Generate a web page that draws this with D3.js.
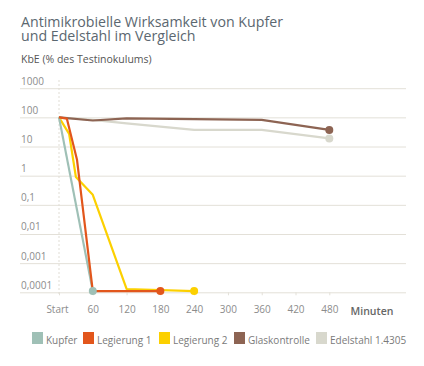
<!DOCTYPE html>
<html><head><meta charset="utf-8">
<script src="https://cdn.jsdelivr.net/npm/d3@7"></script>
<style>body{margin:0;background:#fff}svg{display:block}text{font-family:"Open Sans",sans-serif}</style>
</head><body>
<svg id="c" width="424" height="366"></svg>
<script>
const title1 = "Antimikrobielle Wirksamkeit von Kupfer";
const title2 = "und Edelstahl im Vergleich";
const yTitle = "KbE (% des Testinokulums)";
const yTicks = [1000, 100, 10, 1, 0.1, 0.01, 0.001, 0.0001];
const yTickLabels = ["1000", "100", "10", "1", "0,1", "0,01", "0,001", "0,0001"];
const xTicks = [0, 60, 120, 180, 240, 300, 360, 420, 480];
const xTickLabels = ["Start", "60", "120", "180", "240", "300", "360", "420", "480"];
const xTitle = "Minuten";
const seriesNames = ["Kupfer", "Legierung 1", "Legierung 2", "Glaskontrolle", "Edelstahl 1.4305"];
const colors = ["#9fc0b6", "#e2561c", "#fcd000", "#8d6453", "#d8d8cd"];
const kupferT = [0, 60];
const kupferV = [100, 0.00011];
const leg1T = [0, 14, 32, 60, 180];
const leg1V = [100, 90, 3.5, 0.00011, 0.00011];
const leg2T = [0, 18, 30, 60, 120, 240];
const leg2V = [100, 27, 0.9, 0.22, 0.00013, 0.00011];
const glasT = [0, 60, 120, 360, 480];
const glasV = [100, 78, 92, 82, 37];
const edelT = [0, 60, 120, 240, 360, 480];
const edelV = [100, 82, 62, 37, 37, 19];

const allT = [kupferT, leg1T, leg2T, glasT, edelT];
const allV = [kupferV, leg1V, leg2V, glasV, edelV];
const drawOrder = [4, 3, 2, 0, 1];

const svg = d3.select("#c");
const x = d3.scaleLinear().domain([0, 480]).range([59, 329.3]);
const y = d3.scaleLog().domain([0.0001, 1000]).range([292.3, 88.2]);

// titles
const tt = svg.append("text").attr("x", 21).attr("y", 27).attr("font-size", 14.2).attr("fill", "#5b6770");
tt.append("tspan").attr("x", 21).attr("y", 27).text(title1);
tt.append("tspan").attr("x", 21).attr("y", 41).text(title2);
svg.append("text").attr("x", 21).attr("y", 62.5).attr("font-size", 10.5).attr("font-weight", 500).attr("fill", "#555").text(yTitle);

// y grid
const yAxis = d3.axisRight(y).tickValues(yTicks).tickSize(386).tickFormat((d, i) => yTickLabels[i]);
const gy = svg.append("g").attr("transform", "translate(20,0)").call(yAxis);
gy.select(".domain").remove();
gy.selectAll(".tick line").attr("stroke", "#e3e0d8").attr("stroke-width", 1);
gy.selectAll(".tick text").attr("x", 1).attr("dy", -4).attr("text-anchor", "start")
  .attr("font-size", 10).attr("fill", "#8c8c8c").attr("font-family", "Open Sans, sans-serif");

// start dotted line
svg.append("line").attr("x1", x(0)).attr("x2", x(0)).attr("y1", 80).attr("y2", 296)
  .attr("stroke", "#e0ddd5").attr("stroke-dasharray", "2,2");

// x axis
const xAxis = d3.axisBottom(x).tickValues(xTicks).tickSize(3).tickFormat((d, i) => xTickLabels[i]);
const gx = svg.append("g").attr("transform", "translate(0,292.3)").call(xAxis);
gx.select(".domain").remove();
gx.selectAll(".tick line").attr("stroke", "#e3e0d8");
gx.selectAll(".tick text").attr("y", 14).attr("font-size", 10).attr("fill", "#8c8c8c").attr("font-family", "Open Sans, sans-serif");
gx.selectAll(".tick").filter(d => d === 0).select("text").attr("dx", -2);
svg.append("text").attr("x", 372).attr("y", 314.5).attr("text-anchor", "middle").attr("font-size", 10.5)
  .attr("font-weight", 600).attr("fill", "#666").text(xTitle);

// lines
const line = d3.line().x(d => x(d[0])).y(d => y(d[1]));
drawOrder.forEach(i => {
  const pts = allT[i].map((t, j) => [t, allV[i][j]]);
  svg.append("path").datum(pts).attr("d", line).attr("fill", "none")
    .attr("stroke", colors[i]).attr("stroke-width", 2.2).attr("stroke-linejoin", "round");
});
drawOrder.forEach(i => {
  const n = allT[i].length - 1;
  svg.append("circle").attr("cx", x(allT[i][n])).attr("cy", y(allV[i][n])).attr("r", 4).attr("fill", colors[i]);
});

// legend
const legX = [32, 83, 159, 234, 316];
const lg = svg.append("g");
seriesNames.forEach((s, i) => {
  lg.append("rect").attr("x", legX[i]).attr("y", 332).attr("width", 11).attr("height", 12).attr("fill", colors[i]);
  lg.append("text").attr("x", legX[i] + 14).attr("y", 343.5).attr("font-size", 10).attr("fill", "#7a7a7a").text(s);
});
</script>
</body></html>
